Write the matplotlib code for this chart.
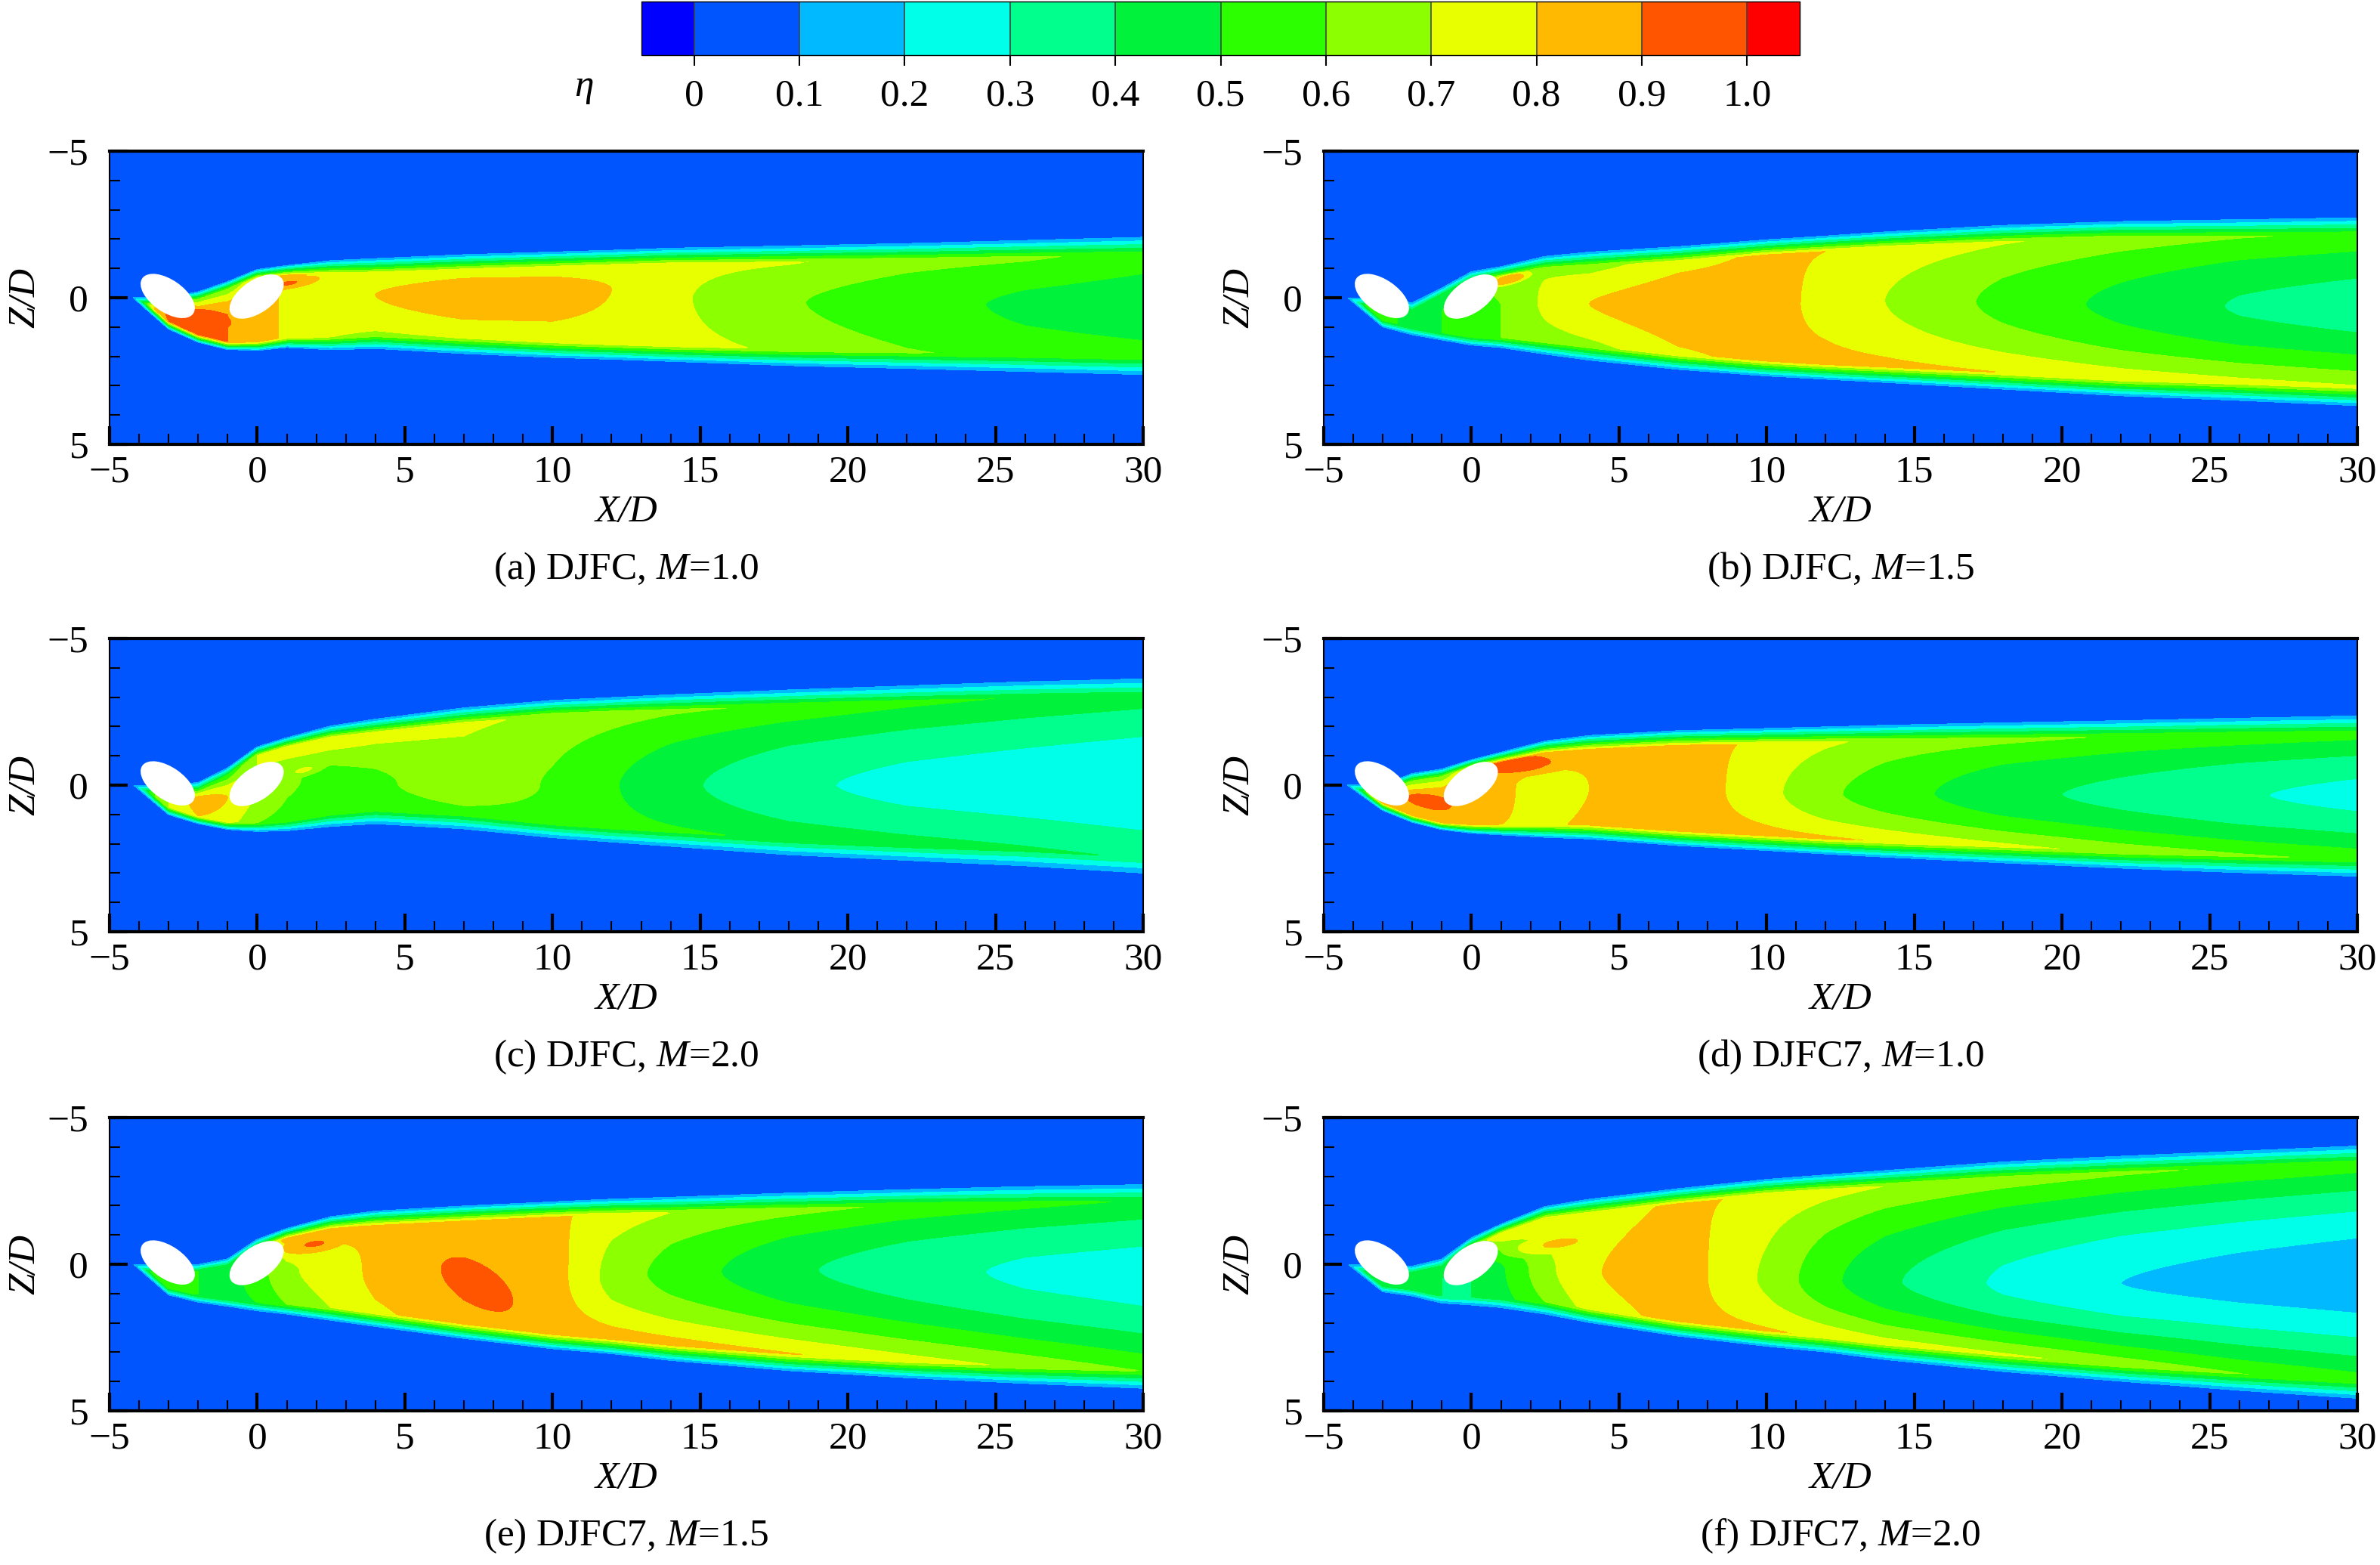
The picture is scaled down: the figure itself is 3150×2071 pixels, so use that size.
import numpy as np
import matplotlib
matplotlib.use('Agg')
import matplotlib.pyplot as plt
from matplotlib.colors import ListedColormap
from matplotlib.patches import Ellipse
from matplotlib.ticker import MultipleLocator, FixedLocator

plt.rcParams['font.family'] = 'Liberation Serif'
plt.rcParams['mathtext.fontset'] = 'custom'
plt.rcParams['mathtext.rm'] = 'Liberation Serif'
plt.rcParams['mathtext.it'] = 'Liberation Serif:italic'
FS = 37

# contour colours (under, 10 bands, over)
COLORS = ['#0000ff', '#0055ff', '#00b9ff', '#00ffe8', '#00ff8c', '#00f23a',
          '#2cff00', '#8cff00', '#e8ff00', '#ffb900', '#ff5500', '#ff0000']
LEVELS = np.round(np.arange(0, 1.01, 0.1), 1)
CB_LABELS = ['0', '0.1', '0.2', '0.3', '0.4', '0.5', '0.6', '0.7', '0.8', '0.9', '1.0']

# streamwise stations X/D where the plume is described
XS = [-4.2, -3, -2, -1, 0, 1, 2.5, 4, 7, 10, 12, 14, 18, 22, 26, 30]
W_RAMP = [0.3, 0.3, 0.3, 0.3, 0.35, 0.4, 0.5, 0.55, 0.6, 0.6, 0.6, 0.62, 0.65, 0.65, 0.68, 0.7]

# per case: upper edge, lower edge, centre z, centre eta, upper peak eta, lower peak eta
A_ZT = [0, 0.0, -0.2, -0.55, -0.95, -1.08, -1.25, -1.32, -1.45, -1.54, -1.6, -1.67, -1.75, -1.84, -1.95, -2.07]
A_ZB = [0, 1.05, 1.5, 1.75, 1.78, 1.68, 1.76, 1.72, 1.89, 2.02, 2.08, 2.15, 2.3, 2.41, 2.52, 2.63]
A_ZC = [0.3, 0.55, 0.65, 0.6, 0.4, 0.0, -0.1, -0.1, -0.1, -0.15, -0.3, 0.0, 0.15, 0.2, 0.25, 0.3]
A_C = [0.7, 0.92, 0.93, 0.9, 0.85, 0.78, 0.76, 0.8, 0.86, 0.85, 0.8, 0.72, 0.61, 0.54, 0.48, 0.45]
A_MT = [0.65, 0.8, 0.6, 0.6, 0.8, 0.85, 0.74, 0.72, 0.74, 0.74, 0.74, 0.74, 0.71, 0.65, 0.62, 0.56]
A_MB = [0.65, 0.9, 0.93, 0.9, 0.85, 0.78, 0.7, 0.68, 0.7, 0.72, 0.73, 0.74, 0.68, 0.61, 0.57, 0.55]
A_HOT = [(-1.9, 0.6, 1.1, 0.3, 0.06, 15), (1.2, -0.5, 1.1, 0.18, 0.1, -10)]

B_ZT = [0, 0.0, 0.15, -0.35, -0.9, -1.05, -1.4, -1.55, -1.72, -1.95, -2.08, -2.22, -2.45, -2.59, -2.66, -2.73]
B_ZB = [0, 1.0, 1.28, 1.45, 1.62, 1.7, 1.92, 2.12, 2.42, 2.64, 2.75, 2.86, 3.09, 3.32, 3.48, 3.66]
B_ZC = [0.3, 0.6, 0.6, 0.5, 0.4, 0.25, 0.15, 0.2, 0.25, 0.25, 0.2, 0.1, 0.15, 0.25, 0.3, 0.35]
B_C = [0.5, 0.55, 0.45, 0.5, 0.55, 0.6, 0.72, 0.8, 0.86, 0.84, 0.77, 0.7, 0.57, 0.47, 0.39, 0.35]
B_MT = [0.5, 0.5, 0.4, 0.45, 0.5, 0.7, 0.68, 0.65, 0.76, 0.82, 0.8, 0.77, 0.71, 0.66, 0.61, 0.58]
B_MB = [0.5, 0.55, 0.45, 0.5, 0.55, 0.6, 0.64, 0.66, 0.78, 0.83, 0.84, 0.83, 0.8, 0.77, 0.74, 0.72]
B_HOT = [(1.2, -0.6, 0.9, 0.2, 0.2, -15)]

C_ZT = [0, 0.0, -0.1, -0.6, -1.3, -1.6, -2.0, -2.23, -2.62, -2.88, -2.98, -3.08, -3.25, -3.4, -3.55, -3.66]
C_ZB = [0, 1.0, 1.3, 1.5, 1.58, 1.56, 1.42, 1.33, 1.5, 1.8, 1.95, 2.1, 2.4, 2.6, 2.8, 3.06]
C_ZC = [0.3, 0.55, 0.5, 0.4, 0.0, -0.3, -0.2, -0.1, 0.0, 0.0, 0.0, 0.0, 0.0, 0.0, -0.05, -0.1]
C_C = [0.5, 0.7, 0.85, 0.8, 0.7, 0.62, 0.56, 0.58, 0.66, 0.59, 0.51, 0.43, 0.32, 0.27, 0.245, 0.22]
C_MT = [0.5, 0.6, 0.5, 0.5, 0.7, 0.8, 0.8, 0.76, 0.72, 0.68, 0.65, 0.62, 0.58, 0.53, 0.49, 0.46]
C_MB = [0.5, 0.7, 0.8, 0.75, 0.6, 0.55, 0.52, 0.52, 0.55, 0.55, 0.54, 0.52, 0.48, 0.45, 0.42, 0.39]
C_HOT = [(1.6, -0.5, 0.8, 0.2, 0.1, -15)]

D_ZT = [0, 0.0, -0.4, -0.55, -0.85, -1.1, -1.48, -1.67, -1.83, -1.91, -1.97, -2.03, -2.12, -2.2, -2.29, -2.37]
D_ZB = [0, 0.85, 1.25, 1.5, 1.62, 1.68, 1.76, 1.81, 2.03, 2.2, 2.32, 2.43, 2.63, 2.82, 2.98, 3.11]
D_ZC = [0.3, 0.5, 0.5, 0.5, 0.2, 0.0, 0.0, 0.1, 0.2, 0.25, 0.3, 0.3, 0.3, 0.35, 0.35, 0.35]
D_C = [0.6, 0.85, 0.9, 0.9, 0.85, 0.82, 0.76, 0.8, 0.88, 0.73, 0.62, 0.55, 0.43, 0.37, 0.31, 0.27]
D_MT = [0.6, 0.7, 0.6, 0.6, 0.85, 0.9, 0.88, 0.82, 0.84, 0.78, 0.72, 0.67, 0.63, 0.59, 0.57, 0.55]
D_MB = [0.6, 0.85, 0.9, 0.9, 0.85, 0.8, 0.78, 0.82, 0.86, 0.84, 0.82, 0.79, 0.73, 0.67, 0.62, 0.58]
D_HOT = [(1.9, -0.65, 1.6, 0.35, 0.1, -5), (-1.5, 0.5, 1.0, 0.25, 0.05, 15)]

E_ZT = [0, 0.0, 0.0, -0.2, -0.85, -1.2, -1.6, -1.79, -1.96, -2.1, -2.2, -2.27, -2.42, -2.55, -2.66, -2.74]
E_ZB = [0, 1.05, 1.3, 1.45, 1.6, 1.7, 1.9, 2.1, 2.5, 2.85, 3.02, 3.25, 3.6, 3.85, 4.05, 4.23]
E_ZC = [0.3, 0.6, 0.5, 0.4, 0.3, 0.2, 0.2, 0.3, 0.55, 0.5, 0.4, 0.3, 0.2, 0.2, 0.3, 0.4]
E_C = [0.5, 0.55, 0.5, 0.45, 0.55, 0.68, 0.75, 0.82, 0.87, 0.85, 0.66, 0.56, 0.42, 0.34, 0.28, 0.25]
E_MT = [0.5, 0.5, 0.5, 0.45, 0.6, 0.85, 0.85, 0.8, 0.82, 0.82, 0.76, 0.7, 0.64, 0.58, 0.535, 0.49]
E_MB = [0.5, 0.55, 0.5, 0.45, 0.5, 0.6, 0.7, 0.78, 0.86, 0.87, 0.86, 0.85, 0.81, 0.75, 0.68, 0.6]
E_HOT = [(1.8, -0.62, 1.2, 0.3, 0.12, -10), (7.4, 0.65, 2.0, 0.9, 0.08, 32)]

F_ZT = [0, 0.0, 0.05, -0.2, -0.9, -1.35, -1.95, -2.2, -2.55, -2.87, -3.03, -3.18, -3.48, -3.68, -3.86, -4.04]
F_ZB = [0, 0.95, 1.1, 1.35, 1.42, 1.5, 1.7, 1.97, 2.42, 2.77, 2.97, 3.23, 3.64, 3.98, 4.3, 4.58]
F_ZC = [0.3, 0.55, 0.5, 0.45, 0.3, 0.2, 0.15, 0.25, 0.4, 0.5, 0.55, 0.6, 0.65, 0.65, 0.55, 0.45]
F_C = [0.45, 0.5, 0.45, 0.4, 0.4, 0.48, 0.67, 0.79, 0.86, 0.68, 0.53, 0.42, 0.28, 0.2, 0.16, 0.13]
F_MT = [0.45, 0.45, 0.45, 0.4, 0.6, 0.8, 0.8, 0.74, 0.82, 0.78, 0.74, 0.7, 0.66, 0.62, 0.585, 0.56]
F_MB = [0.45, 0.5, 0.45, 0.4, 0.4, 0.45, 0.6, 0.74, 0.84, 0.815, 0.78, 0.75, 0.72, 0.67, 0.605, 0.56]
F_HOT = [(2.4, -0.6, 1.6, 0.3, 0.1, -10)]

CASES = [(A_ZT, A_ZB, A_ZC, A_C, A_MT, A_MB), (B_ZT, B_ZB, B_ZC, B_C, B_MT, B_MB),
         (C_ZT, C_ZB, C_ZC, C_C, C_MT, C_MB), (D_ZT, D_ZB, D_ZC, D_C, D_MT, D_MB),
         (E_ZT, E_ZB, E_ZC, E_C, E_MT, E_MB), (F_ZT, F_ZB, F_ZC, F_C, F_MT, F_MB)]
HOTSPOTS = [A_HOT, B_HOT, C_HOT, D_HOT, E_HOT, F_HOT]
CAPTIONS = ['(a) DJFC, $M$=1.0', '(b) DJFC, $M$=1.5', '(c) DJFC, $M$=2.0',
            '(d) DJFC7, $M$=1.0', '(e) DJFC7, $M$=1.5', '(f) DJFC7, $M$=2.0']

# hole footprints: centre x, centre z, width, height, angle
HOLES = [(-3.03, -0.06, 2.05, 1.05, 35), (-0.02, -0.04, 2.05, 1.05, -35)]


def eta_field(X, Z, zt, zb, zc, c, mt, mb):
    w = np.interp(X, XS, W_RAMP)
    top = np.interp(X, XS, zt) - 0.17 * w
    bot = np.interp(X, XS, zb) + 0.17 * w
    zc = np.clip(np.interp(X, XS, zc), top, bot)
    c = np.interp(X, XS, c)
    dz = Z - zc
    upper = dz < 0
    H = np.where(upper, zc - top, bot - zc) - w
    H = np.maximum(H, 0.05)
    M = np.where(upper, np.interp(X, XS, mt), np.interp(X, XS, mb))
    s = np.clip(np.abs(dz) / H, 0, 1)
    base = c + (M - c) * s ** 1.7
    d = np.minimum(Z - top, bot - Z)
    E = np.clip(d / w, 0, 1)
    eta = base * E
    eta[X < XS[0]] = 0
    return eta


def add_hot(eta, X, Z, spots):
    for bx, bz, rx, rz, amp, ang in spots:
        t = np.deg2rad(ang)
        dx, dz = X - bx, Z - bz
        u = dx * np.cos(t) + dz * np.sin(t)
        v = -dx * np.sin(t) + dz * np.cos(t)
        r2 = (u / rx) ** 2 + (v / rz) ** 2
        eta = eta + amp * np.clip(1 - r2, 0, 1)
    return eta


x = np.linspace(-5, 30, 701)
z = np.linspace(-5, 5, 401)
X, Z = np.meshgrid(x, z)

cmap = ListedColormap(COLORS[1:-1])
cmap.set_under(COLORS[0])
cmap.set_over(COLORS[-1])

fig = plt.figure(figsize=(31.5, 20.71), dpi=100)

lefts = [145 / 3150, 1752 / 3150]
bottoms = [1 - 588 / 2071, 1 - 1233 / 2071, 1 - 1867 / 2071]
aw, ah = 1368 / 3150, 388 / 2071

for i, case in enumerate(CASES):
    ax = fig.add_axes([lefts[i % 2], bottoms[i // 2], aw, ah])
    eta = eta_field(X, Z, *case)
    eta = add_hot(eta, X, Z, HOTSPOTS[i])
    eta = np.maximum(eta, 0.03)
    cf = ax.contourf(X, Z, eta, levels=LEVELS, cmap=cmap, extend='both')
    for hx, hz, hw, hh, ang in HOLES:
        ax.add_patch(Ellipse((hx, hz), hw, hh, angle=ang, facecolor='white',
                             edgecolor='white', lw=1.5, zorder=3))
    ax.set_xlim(-5, 30)
    ax.set_ylim(5, -5)
    ax.xaxis.set_major_locator(MultipleLocator(5))
    ax.xaxis.set_minor_locator(MultipleLocator(1))
    ax.yaxis.set_major_locator(FixedLocator([-5, 0, 5]))
    ax.yaxis.set_minor_locator(MultipleLocator(1))
    ax.tick_params(which='both', direction='in', top=False, right=False, labelsize=FS)
    ax.tick_params(which='major', length=17, width=3)
    ax.tick_params(which='minor', length=10, width=1.5)
    ax.tick_params(axis='x', pad=10)
    ax.tick_params(axis='y', pad=20)
    for side in ['top', 'bottom']:
        ax.spines[side].set_linewidth(3)
    for side in ['left', 'right']:
        ax.spines[side].set_linewidth(1.5)
    ax.text(0.5, -90 / 388, 'X/D', transform=ax.transAxes, fontsize=FS,
            style='italic', ha='center', va='center')
    ax.text(-112 / 1368, 0.5, 'Z/D', transform=ax.transAxes, fontsize=FS,
            style='italic', ha='center', va='center', rotation=90)
    ax.text(0.5, -166 / 388, CAPTIONS[i], transform=ax.transAxes, fontsize=FS,
            ha='center', va='center')

cax = fig.add_axes([849 / 3150, 1 - 73 / 2071, 1533 / 3150, 71 / 2071])
cb = fig.colorbar(cf, cax=cax, orientation='horizontal', extend='both',
                  extendrect=True, extendfrac=0.05, drawedges=True)
cb.set_ticks(LEVELS)
cb.set_ticklabels(CB_LABELS)
cb.outline.set_linewidth(1)
cb.dividers.set_color('#444444')
cb.dividers.set_linewidth(1.2)
cax.tick_params(direction='out', length=10, width=1.5, labelsize=FS, pad=12)
fig.text(773 / 3150, 1 - 115 / 2071, 'η', fontsize=FS, style='italic',
         ha='center', va='center')

fig.savefig('out.png', dpi=100)
